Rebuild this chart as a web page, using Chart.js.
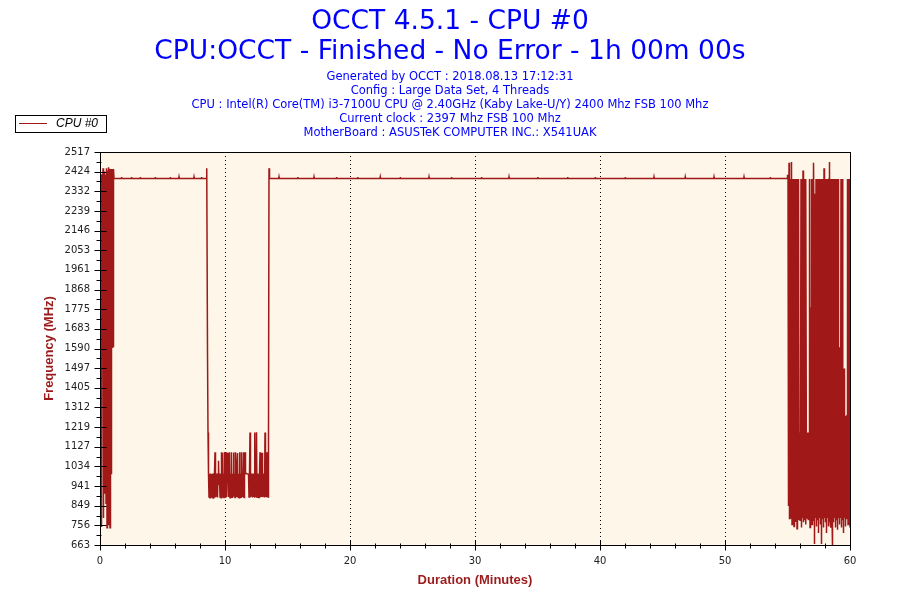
<!DOCTYPE html>
<html>
<head>
<meta charset="utf-8">
<title>OCCT 4.5.1 - CPU #0</title>
<script src="https://cdn.jsdelivr.net/npm/chart.js@4/dist/chart.umd.min.js"></script>
<style>
  body { margin: 0; background: #fff; }
  #chart { display: block; }
</style>
</head>
<body>
<canvas id="chart" width="900" height="600"></canvas>
<script>
// frequency samples (MHz)
const sampleStep = 0.04; // minutes between samples in the busy stretches

const warmupStart = 0;
const warmupFreq = [2410, 760, 2412, 748, 2395, 1740, 2440, 790, 2425, 905,
    2300, 2410, 860, 2440, 744, 2430, 1790, 2445, 760, 2438,
    744, 2437, 1000, 2437, 1596, 2437, 1600, 2437, 2392];

const steadyTimesA = [1.16, 1.70, 1.72, 1.74, 2.50, 2.52, 2.54, 3.20, 3.22, 3.24,
    4.40, 4.42, 4.44, 5.60, 5.62, 5.64, 6.30, 6.32, 6.34, 7.50, 7.52, 7.54, 8.10, 8.12, 8.14, 8.48];
const steadyFreqA = [2392, 2392, 2399, 2392, 2392, 2399, 2392, 2392, 2399, 2392,
    2392, 2399, 2392, 2392, 2399, 2392, 2392, 2399, 2392, 2392, 2399, 2392, 2392, 2399, 2392, 2392];

const throttleStart = 8.52;
const throttleFreq = [2392, 2440, 1572, 1194, 999, 890, 999, 886, 1000, 892,
    998, 889, 999, 885, 1001, 890, 999, 1100, 888, 999,
    891, 1000, 887, 998, 1060, 950, 1000, 890, 999, 886,
    1100, 889, 1098, 893, 1000, 887, 1102, 890, 999, 1100,
    888, 1000, 955, 1098, 889, 1000, 1101, 886, 999, 890,
    1100, 888, 999, 960, 1099, 891, 1000, 887, 1100, 999,
    889, 1000, 1097, 890, 999, 886, 1100, 892, 1000, 888,
    1101, 999, 890, 998, 1100, 887, 999, 1100, 999, 999,
    1000, 999, 999, 998, 999, 890, 999, 1194, 888, 1000,
    891, 999, 887, 1000, 889, 999, 886, 1194, 890, 999,
    1195, 888, 1000, 891, 999, 887, 1000, 1100, 889, 999,
    890, 1098, 888, 1000, 891, 999, 887, 1194, 890, 1000,
    888, 1101, 999, 889, 1194, 2440, 2392];

const steadyTimesB = [13.60,
    14.30, 14.32, 14.34, 15.80, 15.82, 15.84, 17.10, 17.12, 17.14, 18.90, 18.92, 18.94,
    20.60, 20.62, 20.64, 22.40, 22.42, 22.44, 24.00, 24.02, 24.04, 26.30, 26.32, 26.34,
    28.10, 28.12, 28.14, 30.50, 30.52, 30.54, 32.70, 32.72, 32.74, 35.00, 35.02, 35.04,
    37.40, 37.42, 37.44, 39.60, 39.62, 39.64, 42.00, 42.02, 42.04, 44.30, 44.32, 44.34,
    46.80, 46.82, 46.84, 49.10, 49.12, 49.14, 51.50, 51.52, 51.54, 53.60, 53.62, 53.64,
    54.96];
const steadyFreqB = [2392,
    2392, 2399, 2392, 2392, 2399, 2392, 2392, 2399, 2392, 2392, 2399, 2392,
    2392, 2399, 2392, 2392, 2399, 2392, 2392, 2399, 2392, 2392, 2399, 2392,
    2392, 2399, 2392, 2392, 2399, 2392, 2392, 2399, 2392, 2392, 2399, 2392,
    2392, 2399, 2392, 2392, 2399, 2392, 2392, 2399, 2392, 2392, 2399, 2392,
    2392, 2399, 2392, 2392, 2399, 2392, 2392, 2399, 2392, 2392, 2399, 2392,
    2392];

const finalStart = 55.0;
const finalFreq = [2410, 2392, 847, 2466, 785, 2390, 790, 792, 2470, 760,
    2390, 780, 2390, 750, 2390, 790, 2390, 775, 2390, 740,
    2390, 785, 2390, 790, 1194, 780, 1194, 2390, 745, 1194,
    790, 2430, 770, 2390, 780, 2390, 760, 2390, 790, 1194,
    785, 1194, 780, 1150, 2390, 745, 1785, 790, 2390, 760,
    2390, 780, 2466, 2195, 668, 2320, 790, 2390, 750, 2390,
    780, 2390, 720, 2390, 790, 2390, 760, 2390, 668, 2390,
    785, 2390, 745, 2440, 790, 2390, 770, 2390, 720, 2390,
    790, 2390, 750, 2390, 2470, 780, 2390, 745, 2390, 790,
    660, 2390, 770, 2390, 790, 2390, 745, 2390, 780, 2390,
    735, 2390, 790, 1596, 760, 1596, 790, 2390, 745, 2390,
    780, 1496, 720, 1496, 790, 1273, 750, 1273, 785, 1273,
    2390, 760, 2390, 790, 2390, 745];

const freqTickLabels = ['663', '756', '849', '941', '1034', '1127', '1219', '1312', '1405', '1497',
    '1590', '1683', '1775', '1868', '1961', '2053', '2146', '2239', '2332', '2424', '2517'];
const durationTickLabels = ['0', '10', '20', '30', '40', '50', '60'];

const titleLines = ['OCCT 4.5.1 - CPU #0', 'CPU:OCCT - Finished - No Error - 1h 00m 00s'];
const infoLines = [
    'Generated by OCCT : 2018.08.13 17:12:31',
    'Config : Large Data Set, 4 Threads',
    'CPU : Intel(R) Core(TM) i3-7100U CPU @ 2.40GHz (Kaby Lake-U/Y) 2400 Mhz FSB 100 Mhz',
    'Current clock : 2397 Mhz FSB 100 Mhz',
    'MotherBoard : ASUSTeK COMPUTER INC.: X541UAK'
];

function sampled(start, freqs) {
    return freqs.map((f, i) => ({ x: start + i * sampleStep, y: f }));
}
function paired(times, freqs) {
    return times.map((t, i) => ({ x: t, y: freqs[i] }));
}

const cpuPoints = [
    ...sampled(warmupStart, warmupFreq),
    ...paired(steadyTimesA, steadyFreqA),
    ...sampled(throttleStart, throttleFreq),
    ...paired(steadyTimesB, steadyFreqB),
    ...sampled(finalStart, finalFreq)
];

// cream plot background, full frame and the crossing tick marks
const plotFrame = {
    id: 'plotFrame',
    beforeDraw(chart) {
        const { ctx, chartArea: a } = chart;
        ctx.save();
        ctx.fillStyle = '#fdf6e9';
        ctx.fillRect(a.left, a.top, a.right - a.left, a.bottom - a.top);
        ctx.restore();
    },
    afterDraw(chart) {
        const { ctx, chartArea: a, scales } = chart;
        const left = Math.round(a.left) + 0.5;
        const bottom = Math.round(a.bottom) + 0.5;
        ctx.save();
        ctx.strokeStyle = '#000';
        ctx.lineWidth = 1;
        ctx.strokeRect(left, Math.round(a.top) + 0.5, Math.round(a.right - a.left), Math.round(a.bottom - a.top));
        ctx.beginPath();
        scales.y.ticks.forEach((t, i) => {
            const y = Math.round(scales.y.getPixelForTick(i)) + 0.5;
            if (i % 2 === 0) {
                ctx.moveTo(left - 6, y); ctx.lineTo(left + 6, y);
            } else {
                ctx.moveTo(left - 4, y); ctx.lineTo(left + 1, y);
            }
        });
        scales.x.ticks.forEach((t, i) => {
            const x = Math.round(scales.x.getPixelForTick(i)) + 0.5;
            if (t.value % 10 === 0) {
                ctx.moveTo(x, bottom - 5); ctx.lineTo(x, bottom + 5);
            } else {
                ctx.moveTo(x, bottom - 2); ctx.lineTo(x, bottom + 3);
            }
        });
        ctx.stroke();
        ctx.restore();
    }
};

// boxed legend in the top left corner
const boxLegend = {
    id: 'boxLegend',
    afterDraw(chart) {
        const ctx = chart.ctx;
        const ds = chart.data.datasets[0];
        ctx.save();
        ctx.strokeStyle = '#000';
        ctx.lineWidth = 1;
        ctx.strokeRect(15.5, 115.5, 91, 17);
        ctx.strokeStyle = ds.borderColor;
        ctx.beginPath();
        ctx.moveTo(19, 123.5);
        ctx.lineTo(47, 123.5);
        ctx.stroke();
        ctx.fillStyle = '#000';
        ctx.font = 'italic 12px "Liberation Sans", Arial, sans-serif';
        ctx.textBaseline = 'middle';
        ctx.fillText(ds.label, 56, 124);
        ctx.restore();
    }
};

new Chart(document.getElementById('chart'), {
    type: 'line',
    data: {
        datasets: [{
            label: 'CPU #0',
            data: cpuPoints,
            borderColor: '#a01818',
            borderWidth: 1.5,
            pointRadius: 0,
            fill: false,
            tension: 0
        }]
    },
    options: {
        responsive: false,
        animation: false,
        layout: { padding: 0 },
        plugins: {
            legend: { display: false },
            tooltip: { enabled: false },
            title: {
                display: true,
                text: titleLines,
                color: '#0000ff',
                font: { family: '"DejaVu Sans", sans-serif', size: 26.5, weight: 'normal', lineHeight: 30 / 26.5 },
                padding: { top: 7, bottom: 2 }
            },
            subtitle: {
                display: true,
                text: infoLines,
                color: '#0000ff',
                font: { family: '"DejaVu Sans", sans-serif', size: 11.5, weight: 'normal', lineHeight: 14 / 11.5 },
                padding: { top: 1, bottom: 12 }
            }
        },
        scales: {
            x: {
                type: 'linear',
                min: 0,
                max: 60,
                afterFit(scale) { scale.height = 55; },
                grid: {
                    drawTicks: false,
                    lineWidth: 1,
                    color: (c) => (c.tick && c.tick.value % 10 === 0 && c.tick.value > 0 && c.tick.value < 60) ? '#000' : 'rgba(0,0,0,0)'
                },
                border: { color: '#000', width: 1, dash: [1, 3] },
                ticks: {
                    stepSize: 2,
                    autoSkip: false,
                    maxRotation: 0,
                    padding: 10,
                    color: '#222',
                    font: { family: '"DejaVu Sans", sans-serif', size: 10 },
                    callback: (v) => (v % 10 === 0 ? durationTickLabels[v / 10] : '')
                },
                title: {
                    display: true,
                    text: 'Duration (Minutes)',
                    color: '#9b1c1c',
                    font: { family: '"Liberation Sans", Arial, sans-serif', size: 13, weight: 'bold' },
                    padding: { top: 0, bottom: 12 }
                }
            },
            y: {
                type: 'linear',
                min: 663,
                max: 2517,
                afterFit(scale) { scale.width = 100; },
                grid: { display: false, drawTicks: false },
                border: { color: '#000', width: 1 },
                ticks: {
                    stepSize: 46.35,
                    autoSkip: false,
                    padding: 10,
                    color: '#222',
                    font: { family: '"DejaVu Sans", sans-serif', size: 10 },
                    callback: (v, i) => (i % 2 === 0 ? freqTickLabels[i / 2] : '')
                },
                title: {
                    display: true,
                    text: 'Frequency (MHz)',
                    color: '#9b1c1c',
                    font: { family: '"Liberation Sans", Arial, sans-serif', size: 13, weight: 'bold' },
                    padding: { top: 42, bottom: 0 }
                }
            },
            // empty right-hand axis that only reserves the right margin
            yRight: {
                position: 'right',
                afterFit(scale) { scale.width = 50; },
                grid: { display: false, drawTicks: false },
                border: { display: false },
                ticks: { display: false }
            }
        }
    },
    plugins: [plotFrame, boxLegend]
});
</script>
</body>
</html>
